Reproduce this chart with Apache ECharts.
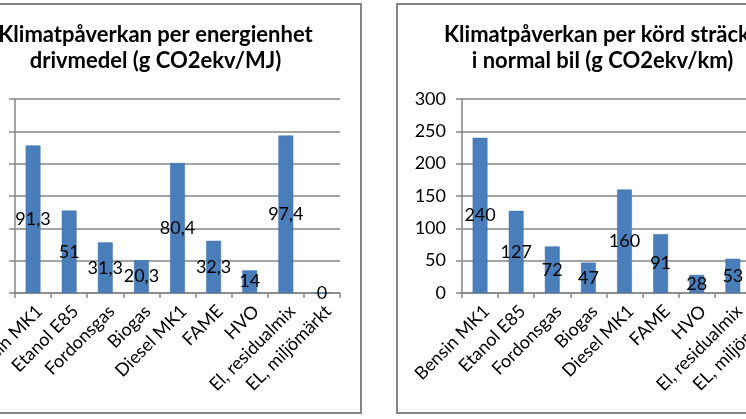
<!DOCTYPE html>
<html>
<head>
<meta charset="utf-8">
<script src="https://cdn.jsdelivr.net/npm/echarts@6/dist/echarts.min.js"></script>
<style>
html,body{margin:0;padding:0;background:#fff;width:746px;height:419px;overflow:hidden;position:relative;}
.c{position:absolute;top:3px;width:413px;height:411px;}
.b{position:absolute;top:3px;width:413px;height:411px;box-sizing:border-box;border:2px solid #858585;pointer-events:none;}
</style>
</head>
<body>
<div id="c1" class="c" style="left:-51px"></div>
<div class="b" style="left:-51px"></div>
<div id="c2" class="c" style="left:396px"></div>
<div class="b" style="left:396px"></div>
<script>
var categories = ['Bensin MK1','Etanol E85','Fordonsgas','Biogas','Diesel MK1','FAME','HVO','El, residualmix','EL, miljömärkt'];
var perEnergy = [91.3, 51, 31.3, 20.3, 80.4, 32.3, 14, 97.4, 0];
var perKm = [240, 127, 72, 47, 160, 91, 28, 53, 0];
var title1 = 'Klimatpåverkan per energienhet\ndrivmedel (g CO2ekv/MJ)';
var title2 = 'Klimatpåverkan per körd sträcka\ni normal bil (g CO2ekv/km)';

var FONT = 'Lato, "Open Sans", sans-serif';
function makeOption(title, data, max, interval){
  return {
    animation:false,
    title:{text:title,left:'center',top:14,textStyle:{fontFamily:FONT,fontSize:22,fontWeight:'bold',color:'#000',lineHeight:26}},
    grid:{left:66,right:22,top:96,bottom:121},
    xAxis:{type:'category',data:categories,
      axisLine:{lineStyle:{color:'#868686',width:1.5}},
      axisTick:{show:true,length:5,lineStyle:{color:'#868686',width:1.5}},
      axisLabel:{rotate:45,interval:0,margin:9,verticalAlign:'top',align:'right',fontFamily:FONT,fontSize:18,color:'#000'}},
    yAxis:{type:'value',min:0,max:max,interval:interval,
      axisLine:{show:true,lineStyle:{color:'#868686',width:1.5}},
      axisTick:{show:true,length:6,lineStyle:{color:'#868686',width:1.5}},
      splitLine:{lineStyle:{color:'#868686',width:1.5}},
      axisLabel:{margin:16,fontFamily:FONT,fontSize:18,color:'#000'}},
    series:[{type:'bar',data:data,barWidth:'41%',
      itemStyle:{color:'#4a7ebb',borderColor:'#3f6fa8',borderWidth:0.5},
      label:{show:true,position:'inside',fontFamily:FONT,fontSize:18,color:'#000',
        formatter:function(p){return String(p.value).replace('.',',');}}}]
  };
}
echarts.init(document.getElementById('c1')).setOption(makeOption(title1, perEnergy, 120, 20));
echarts.init(document.getElementById('c2')).setOption(makeOption(title2, perKm, 300, 50));
</script>
</body>
</html>
